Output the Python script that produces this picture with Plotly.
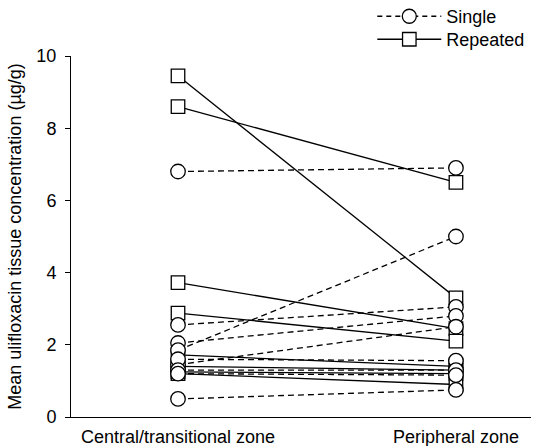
import plotly.graph_objects as go

zones = ["Central/transitional zone", "Peripheral zone"]
y_ticks = [0, 2, 4, 6, 8, 10]

# Single dose: (central, peripheral) per patient
single_central = [6.8, 2.55, 2.05, 1.85, 1.45, 1.6, 1.3, 1.2, 0.5]
single_peripheral = [6.9, 3.05, 2.8, 5.0, 2.5, 1.56, 1.3, 1.16, 0.75]

# Repeated dose
repeated_central = [9.45, 8.6, 3.72, 2.88, 1.72, 1.4, 1.25, 1.2]
repeated_peripheral = [3.3, 6.5, 2.45, 2.1, 1.4, 1.3, 1.2, 0.9]

FONT = "Liberation Sans, Arial, sans-serif"
LW = 1.3


def pairs_xy(c, p):
    xs, ys = [], []
    for a, b in zip(c, p):
        xs += [0, 1, None]
        ys += [a, b, None]
    return xs, ys


fig = go.Figure()

rx, ry = pairs_xy(repeated_central, repeated_peripheral)
sx, sy = pairs_xy(single_central, single_peripheral)
fig.add_trace(go.Scatter(x=rx, y=ry, mode="lines", showlegend=False,
                         line=dict(color="black", width=LW), hoverinfo="skip"))
fig.add_trace(go.Scatter(x=sx, y=sy, mode="lines", showlegend=False,
                         line=dict(color="black", width=LW, dash="6px,4px"), hoverinfo="skip"))

fig.add_trace(go.Scatter(
    x=[0] * len(repeated_central) + [1] * len(repeated_peripheral),
    y=repeated_central + repeated_peripheral, mode="markers", showlegend=False,
    marker=dict(symbol="square", size=13.5, color="white", line=dict(color="black", width=1.3))))
fig.add_trace(go.Scatter(
    x=[0] * len(single_central) + [1] * len(single_peripheral),
    y=single_central + single_peripheral, mode="markers", showlegend=False,
    marker=dict(symbol="circle", size=14.5, color="white", line=dict(color="black", width=1.3))))

fig.add_trace(go.Scatter(x=[None], y=[None], mode="lines+markers", name="Single",
                         legend="legend",
                         line=dict(color="black", width=LW, dash="5px,4px"),
                         marker=dict(symbol="circle", size=14, color="white",
                                     line=dict(color="black", width=1.3))))
fig.add_trace(go.Scatter(x=[None], y=[None], mode="lines+markers", name="Repeated",
                         legend="legend2",
                         line=dict(color="black", width=LW),
                         marker=dict(symbol="square", size=13.5, color="white",
                                     line=dict(color="black", width=1.3))))

legend_common = dict(x=0.655, xanchor="left", yanchor="top", yref="paper",
                     bgcolor="rgba(0,0,0,0)", itemwidth=64, font=dict(size=18))

fig.update_layout(
    width=534, height=446,
    margin=dict(l=71, r=3, t=56, b=29, autoexpand=False),
    paper_bgcolor="white", plot_bgcolor="white",
    font=dict(family=FONT, size=18, color="black"),
    legend=dict(y=1.1605, **legend_common),
    legend2=dict(y=1.0968, **legend_common),
    xaxis=dict(range=[-0.385, 1.27], tickvals=[0, 1], ticktext=zones,
               showgrid=False, zeroline=False, showline=True, linecolor="black",
               linewidth=1, ticks="", ticklen=0, ticklabelstandoff=3, automargin=False),
    yaxis=dict(range=[0, 10], tickvals=y_ticks, showgrid=False, zeroline=False,
               showline=True, linecolor="black", linewidth=1, ticks="outside",
               ticklen=5, tickcolor="black", automargin=False, ticklabelstandoff=5,
               title=dict(text="Mean ulifloxacin tissue concentration (µg/g)",
                          font=dict(size=18), standoff=10)),
)

fig.write_html("out.html", config={"displayModeBar": False},
               post_script="document.body.style.margin='0';document.body.style.padding='0';")
